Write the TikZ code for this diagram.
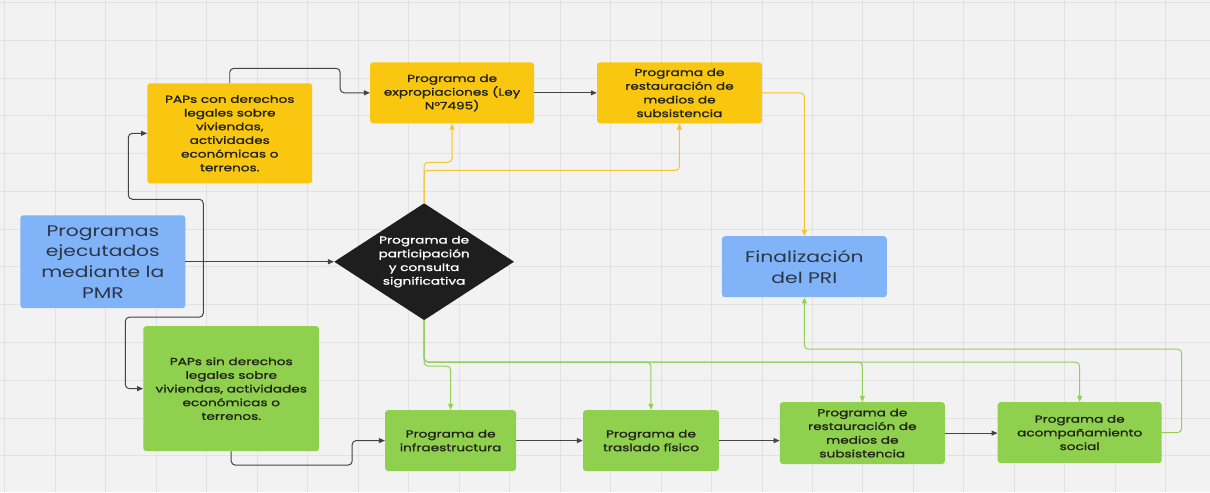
\documentclass[tikz,border=0pt]{standalone}
\usepackage{fontspec}
\setmainfont{Poppins}[FakeStretch=1.32]
\newfontfamily\boxfont{Poppins}[FakeStretch=1.34,FakeBold=1.4]
\usepackage{tikz}
\usetikzlibrary{shapes.geometric,arrows.meta}
\definecolor{paper}{HTML}{F2F2F2}
\definecolor{gridc}{HTML}{E2E2E2}
\definecolor{ink}{HTML}{222218}
\definecolor{slate}{HTML}{2A3645}
\definecolor{wire}{HTML}{444444}
\definecolor{yel}{HTML}{FAC710}
\definecolor{yelline}{HTML}{F5C431}
\definecolor{grn}{HTML}{8FD14F}
\definecolor{grnline}{HTML}{93CF5A}
\definecolor{sky}{HTML}{80B3F8}
\definecolor{night}{HTML}{1E1E1E}
\tikzset{
  card/.style={rectangle, rounded corners=3pt, align=center, inner sep=2pt, text=ink, font=\boxfont\fontsize{10.2}{13.7}\selectfont},
  yelcard/.style={card, fill=yel},
  grncard/.style={card, fill=grn},
  skycard/.style={card, fill=sky, text=slate, font=\fontsize{15.4}{20.7}\selectfont},
  choice/.style={diamond, aspect=1.55, inner sep=0pt, fill=night, text=white, align=center, font=\boxfont\fontsize{10.2}{13.7}\selectfont},
  darkarrow/.style={draw=wire, line width=1pt, rounded corners=4pt, -{Triangle[length=6pt,width=5pt]}},
  yelarrow/.style={draw=yelline, line width=1pt, rounded corners=4pt, -{Triangle[length=6pt,width=5pt]}},
  grnarrow/.style={draw=grnline, line width=1pt, rounded corners=4pt, -{Triangle[length=6pt,width=5pt]}},
}

\begin{document}
\begin{tikzpicture}[x=1pt,y=-1pt]
  \fill[paper] (0,0) rectangle (1210,492);
  \foreach \gx in {0,...,23}
    \draw[gridc, line width=0.8pt] ({4.5+50.5*\gx},0) -- ++(0,492);
  \foreach \gy in {0,...,12}
    \draw[gridc, line width=0.8pt] (0,{2+37.8*\gy}) -- ++(1210,0);
  \useasboundingbox (0,0) rectangle (1210,492);

  \node[skycard, minimum width=165pt, minimum height=93pt] (prog) at (102.5,261.5) {Programas\\ejecutados\\mediante la\\PMR};
  \node[yelcard, minimum width=165pt, minimum height=100pt] (con) at (229.5,133) {PAPs con derechos\\legales sobre\\viviendas,\\actividades\\económicas o\\terrenos.};
  \node[yelcard, minimum width=164pt, minimum height=61pt] (expro) at (452,92.5) {Programa de\\expropiaciones (Ley\\N°7495)};
  \node[yelcard, minimum width=165pt, minimum height=61pt] (resty) at (679.5,92.5) {Programa de\\restauración de\\medios de\\subsistencia};
  \node[choice, minimum width=180pt, minimum height=117pt] (dec) at (424,261.5) {Programa de\\participación\\y consulta\\significativa};
  \node[skycard, minimum width=165pt, minimum height=61pt] (fin) at (804.5,266.5) {Finalización\\del PRI};
  \node[grncard, minimum width=176pt, minimum height=125pt] (sin) at (231,388.5) {PAPs sin derechos\\legales sobre\\viviendas, actividades\\económicas o\\terrenos.};
  \node[grncard, minimum width=131pt, minimum height=61pt] (infra) at (450.5,440.5) {Programa de\\infraestructura};
  \node[grncard, minimum width=136pt, minimum height=61pt] (tras) at (651,440.5) {Programa de\\traslado físico};
  \node[grncard, minimum width=165pt, minimum height=62pt] (restg) at (862.5,433) {Programa de\\restauración de\\medios de\\subsistencia};
  \node[grncard, minimum width=164pt, minimum height=61pt] (acomp) at (1080,432.5) {Programa de\\acompañamiento\\social};

  \coordinate (fork) at (203,261.5);
  \draw[darkarrow] (prog.east) -- (dec.west);
  \draw[darkarrow] (fork) |- (128,199) |- (con.west);
  \draw[darkarrow] (fork) |- (125,317) |- (sin.west);
  \draw[darkarrow] (con.north) |- (340,68) |- (expro.west);
  \draw[darkarrow] (expro.east) -- (resty.west);
  \draw[darkarrow] (sin.south) |- (352,465) |- (infra.west);
  \draw[darkarrow] (infra.east) -- (tras.west);
  \draw[darkarrow] (tras.east) -- (tras.east -| restg.west);
  \draw[darkarrow] (restg.east) -- (restg.east -| acomp.west);

  \draw[yelarrow] (dec.north) |- (452,162) -- (expro.south);
  \draw[yelarrow] (dec.north) |- (679.5,170) -- (resty.south);
  \draw[yelarrow] (resty.east) -| (fin.north);

  \draw[grnarrow] (dec.south) |- (450.5,366) -- (infra.north);
  \draw[grnarrow] (dec.south) |- (651,362) -- (tras.north);
  \draw[grnarrow] (dec.south) |- (862.5,362) -- (restg.north);
  \draw[grnarrow] (dec.south) |- (1080,362) -- (acomp.north);
  \draw[grnarrow] (acomp.east) -| (1182,349) -| (fin.south);
\end{tikzpicture}
\end{document}
